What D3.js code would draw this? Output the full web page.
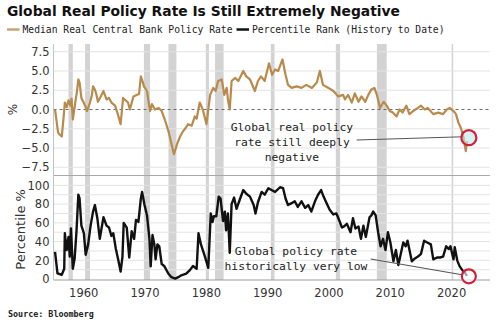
<!DOCTYPE html>
<html>
<head>
<meta charset="utf-8">
<script src="https://cdn.jsdelivr.net/npm/d3@7"></script>
<style>
    body { margin: 0; background: #fff; }
    svg { display: block; }
</style>
</head>
<body>
<script>
(function(){

//pseudo-global variables
//median real policy rate (top panel)
var rateYears = [1955.4,1955.9,1956.2,1956.5,1956.8,1957.0,1957.3,1957.6,1957.9,1958.1,1958.3,1958.7,1959.0,1959.2,1959.4,1959.7,1960.0,1960.3,1960.6,1961.1,1961.4,1961.6,1961.9,1962.1,1962.4,1962.8,1963.3,1963.8,1964.2,1964.6,1965.2,1965.6,1966.1,1966.5,1966.9,1967.3,1967.6,1968.2,1968.8,1969.1,1969.4,1969.7,1969.9,1970.4,1970.7,1970.9,1971.2,1971.7,1972.3,1972.8,1973.3,1973.9,1974.4,1974.8,1975.3,1975.8,1976.3,1976.7,1977.1,1977.7,1978.2,1978.5,1979.0,1979.5,1980.1,1980.7,1981.2,1981.6,1982.0,1982.6,1983.0,1983.4,1983.6,1983.9,1984.2,1984.8,1985.3,1986.1,1986.6,1987.2,1988.0,1988.5,1989.0,1989.6,1990.3,1990.8,1991.3,1991.8,1992.5,1993.0,1993.4,1994.0,1994.8,1995.6,1996.4,1997.3,1998.1,1998.6,1999.1,2000.0,2000.8,2001.6,2002.4,2002.7,2003.2,2003.8,2004.3,2004.9,2005.4,2006.0,2006.5,2007.0,2007.5,2007.9,2008.4,2009.0,2009.5,2010.0,2010.5,2011.1,2011.6,2012.1,2012.7,2013.2,2013.8,2014.6,2015.1,2015.7,2016.2,2017.1,2017.9,2018.7,2019.3,2019.8,2020.4,2020.8,2021.2,2021.6,2022.0,2022.4,2022.6];
var rateValues = [0,-3.0,-3.3,-3.5,-1.0,0.9,0.3,1.2,0.5,1.4,-1.3,0.9,2.5,3.9,3.5,1.5,1.0,0.5,-0.2,0.9,1.8,3.0,2.6,2.1,1.0,1.6,2.4,1.3,1.5,0.9,0.5,-0.5,-1.9,1.5,1.2,0.9,0,1.7,1.9,2.0,4.3,3.6,3.0,2.4,0.8,-0.2,0.7,0,0.2,-0.2,-1.3,-2.8,-4.5,-5.8,-4.5,-3.5,-2.8,-2.4,-1.9,-2.1,-0.9,-1.2,0.9,0,-1.9,1.9,2.8,2.4,3.7,3.9,1.9,2.8,1.3,0,3.7,4.1,3.7,5.0,4.3,3.9,2.4,3.7,4.3,3.7,6.0,4.5,5.2,5.0,6.5,4.5,3.2,2.8,3.0,2.8,3.2,2.8,3.5,5.0,3.2,2.8,2.4,1.7,1.9,1.3,1.9,0.9,2.1,1.0,1.7,1.0,1.9,2.6,2.8,1.9,0.2,1.0,0.5,-0.2,-0.4,-0.9,0,-0.4,0.5,-0.6,-0.2,0.2,0.5,0,0.2,-0.6,-0.4,-0.6,0,0.2,-0.2,-0.6,-1.7,-2.4,-3.5,-5.4,-4.1];

//percentile rank, history to date (bottom panel)
var pctYears = [1955.4,1955.8,1956.5,1956.9,1957.0,1957.3,1957.6,1957.8,1958.0,1958.3,1958.6,1958.9,1959.2,1959.4,1959.7,1960.1,1960.4,1960.8,1961.2,1961.6,1961.9,1962.3,1962.7,1963.3,1963.8,1964.2,1964.6,1964.9,1965.3,1965.7,1966.1,1966.4,1966.6,1967.1,1967.5,1967.9,1968.3,1968.6,1969.0,1969.4,1969.6,1970.0,1970.4,1970.8,1971.0,1971.3,1971.6,1971.8,1972.1,1972.4,1972.8,1973.2,1973.9,1974.4,1975.0,1975.5,1976.0,1976.8,1977.4,1977.9,1978.5,1978.8,1979.2,1979.8,1980.4,1980.8,1981.1,1981.3,1981.7,1982.1,1982.4,1982.8,1983.1,1983.3,1983.6,1983.9,1984.2,1984.6,1985.0,1985.6,1986.1,1986.6,1987.2,1987.8,1988.1,1988.5,1989.1,1989.6,1990.2,1990.7,1991.3,1992.1,1992.6,1993.0,1993.4,1994.0,1994.5,1995.0,1995.6,1996.2,1996.7,1997.2,1997.8,1998.3,1998.8,1999.2,1999.7,2000.2,2000.8,2001.3,2001.8,2002.2,2002.5,2003.0,2003.6,2004.0,2004.4,2004.9,2005.3,2005.7,2006.1,2006.7,2007.0,2007.3,2007.7,2008.1,2008.5,2008.9,2009.3,2009.7,2010.1,2010.6,2011.0,2011.4,2011.8,2012.2,2012.6,2012.9,2013.6,2014.1,2014.6,2015.1,2015.6,2016.1,2016.7,2017.1,2017.7,2018.2,2018.7,2019.2,2019.6,2019.9,2020.4,2020.6,2021.0,2021.4,2021.9,2022.2,2022.6];
var pctValues = [29,6,4.6,11,49,31,45,24,54,11,22,51,90,86,57,49,26,37,57,72,79,65,43,66,57,55,46,49,33,21,8,24,60,55,23,51,43,63,61,86,93,79,68,43,13.5,47,37,21,37,35,16,14,5.7,2,0.5,2,4,5.7,9.5,14,11,49,37,25,12,70,61,67,67,88,86,62,72,52,70,28,80,87,75,86,95,91,88,79,70,82,93,90,97,95,93,98,97,86,79,81,83,77,83,76,79,72,83,90,95,88,81,74,69,70,62,55,56,59,50,65,54,56,43,57,45,66,68,72,68,50,35,43,31,50,39,19,31,15,27,39,35,41,19,22,24,27,41,39,37,21,23,23,24,35,32,35,21,34,20,13.5,9,7.5,3.5];

//recession shading (start, end)
var recStart = [1957.6,1960.3,1969.9,1973.9,1980.0,1981.5,1990.6,2001.2,2007.9,2020.1];
var recEnd   = [1958.3,1961.1,1970.9,1975.2,1980.5,1982.9,1991.2,2001.9,2009.5,2020.35];

//tick labels
var xTicks = [1960, 1970, 1980, 1990, 2000, 2010, 2020];
var rateTicks = [7.5, 5.0, 2.5, 0.0, -2.5, -5.0, -7.5];
var pctTicks = [0, 20, 40, 60, 80, 100];
var pctGrid = [10, 20, 30, 40, 50, 60, 70, 80, 90, 100];

//texts
var titleText = "Global Real Policy Rate Is Still Extremely Negative";
var legendLabels = ["Median Real Central Bank Policy Rate", "Percentile Rank (History to Date)"];
var topNote = ["Global real policy", "rate still deeply", "negative"];
var bottomNote = ["Global policy rate", "historically very low"];
var sourceText = "Source: Bloomberg";

//colours
var rateColor = "#b88a4c",
    legendTan = "#c6a574",
    recColor = "#d3d3d3",
    gridColor = "#e3e3e3",
    ringColor = "#d3203a";

var width = 500,
    height = 333;

setChart();

function setChart(){

    var svg = d3.select("body")
        .append("svg")
        .attr("width", width)
        .attr("height", height);

    //scales
    var x = d3.scaleLinear()
        .domain([1955.15, 2026.35])
        .range([53.5, 490]);

    var yTop = d3.scaleLinear()
        .domain([-8.5, 8.5])
        .range([175, 44]);

    var yBot = d3.scaleLinear()
        .domain([-1, 110])
        .range([280, 176]);

    var tickFont = "DejaVu Sans, Verdana, sans-serif",
        monoFont = "DejaVu Sans Mono, monospace";

    //recession bands over both panels
    var recs = recStart.map(function(d, i){ return [d, recEnd[i]]; });
    svg.selectAll(".rec")
        .data(recs)
        .enter()
        .append("rect")
        .attr("class", "rec")
        .attr("x", function(d){ return x(d[0]); })
        .attr("width", function(d){ return Math.max(1.2, x(d[1]) - x(d[0])); })
        .attr("y", yTop.range()[1])
        .attr("height", yBot.range()[0] - yTop.range()[1])
        .attr("fill", recColor);

    //top panel gridlines
    svg.selectAll(".gridTop")
        .data(rateTicks.filter(function(d){ return d != 0; }))
        .enter()
        .append("line")
        .attr("x1", x.range()[0])
        .attr("x2", x.range()[1])
        .attr("y1", function(d){ return yTop(d); })
        .attr("y2", function(d){ return yTop(d); })
        .attr("stroke", gridColor)
        .attr("stroke-width", 1);

    //bottom panel gridlines
    svg.selectAll(".gridBot")
        .data(pctGrid)
        .enter()
        .append("line")
        .attr("x1", x.range()[0])
        .attr("x2", x.range()[1])
        .attr("y1", function(d){ return yBot(d); })
        .attr("y2", function(d){ return yBot(d); })
        .attr("stroke", gridColor)
        .attr("stroke-width", 1);

    //zero line
    svg.append("line")
        .attr("x1", x.range()[0])
        .attr("x2", x.range()[1])
        .attr("y1", yTop(0))
        .attr("y2", yTop(0))
        .attr("stroke", "#6a6a6a")
        .attr("stroke-width", 1)
        .attr("stroke-dasharray", "3,3");

    //panel frame lines
    svg.append("line")
        .attr("x1", x.range()[0]).attr("x2", x.range()[1])
        .attr("y1", 175.5).attr("y2", 175.5)
        .attr("stroke", "#a8a8a8");
    svg.append("line")
        .attr("x1", x.range()[0]).attr("x2", x.range()[1])
        .attr("y1", yBot(-1)).attr("y2", yBot(-1))
        .attr("stroke", "#9a9a9a");
    svg.append("line")
        .attr("x1", x.range()[0]).attr("x2", x.range()[0])
        .attr("y1", yTop.range()[1]).attr("y2", yBot(-1))
        .attr("stroke", "#c4c4c4");

    //axes (text only, styled after)
    var axTop = svg.append("g")
        .attr("transform", "translate(" + (x.range()[0] - 4) + ",0)")
        .call(d3.axisLeft(yTop).tickValues(rateTicks).tickFormat(d3.format(".1f")).tickSize(0));
    var axBot = svg.append("g")
        .attr("transform", "translate(" + (x.range()[0] - 4) + ",0)")
        .call(d3.axisLeft(yBot).tickValues(pctTicks).tickFormat(d3.format("d")).tickSize(0));
    var axX = svg.append("g")
        .attr("transform", "translate(0," + (yBot(-1) + 6) + ")")
        .call(d3.axisBottom(x).tickValues(xTicks).tickFormat(d3.format("d")).tickSize(0));

    [axTop, axBot, axX].forEach(function(ax){
        ax.select(".domain").remove();
        ax.selectAll("text")
            .attr("fill", "#333")
            .style("font-family", tickFont)
            .style("font-size", "11.5px");
    });
    axTop.selectAll("text").attr("x", 0);
    axBot.selectAll("text").attr("x", 0);

    //y labels
    svg.append("text")
        .attr("transform", "translate(17," + yTop(0) + ") rotate(-90)")
        .attr("text-anchor", "middle")
        .style("font-family", tickFont)
        .style("font-size", "12px")
        .attr("fill", "#333")
        .text("%");
    svg.append("text")
        .attr("transform", "translate(25," + yBot(53) + ") rotate(-90)")
        .attr("text-anchor", "middle")
        .style("font-family", tickFont)
        .style("font-size", "13px")
        .attr("fill", "#333")
        .text("Percentile %");

    //lines
    var rateLine = d3.line()
        .x(function(d){ return x(d[0]); })
        .y(function(d){ return yTop(d[1]); });
    var pctLine = d3.line()
        .x(function(d){ return x(d[0]); })
        .y(function(d){ return yBot(d[1]); });

    svg.append("path")
        .datum(rateYears.map(function(d, i){ return [d, rateValues[i]]; }))
        .attr("d", rateLine)
        .attr("fill", "none")
        .attr("stroke", rateColor)
        .attr("stroke-width", 2.2)
        .attr("stroke-linejoin", "round");

    svg.append("path")
        .datum(pctYears.map(function(d, i){ return [d, pctValues[i]]; }))
        .attr("d", pctLine)
        .attr("fill", "none")
        .attr("stroke", "#111")
        .attr("stroke-width", 2.4)
        .attr("stroke-linejoin", "round");

    //annotations
    addNote(svg, topNote, x(1994.05), yTop(-2.79), x(2004.6), yTop(-3.96), x(2022.0), yTop(-3.53), monoFont);
    addNote(svg, bottomNote, x(1994.7), yBot(26.2), x(2006.9), yBot(21.4), x(2022.0), yBot(4.3), monoFont);

    //red rings on latest readings
    svg.append("circle")
        .attr("cx", x(2022.9)).attr("cy", yTop(-3.66)).attr("r", 7.5)
        .attr("fill", "#bfe8e8").attr("fill-opacity", 0.6)
        .attr("stroke", ringColor).attr("stroke-width", 2.2);
    svg.append("circle")
        .attr("cx", x(2022.9)).attr("cy", yBot(2.9)).attr("r", 7)
        .attr("fill", "#ffffff").attr("fill-opacity", 0.6)
        .attr("stroke", ringColor).attr("stroke-width", 2.2);

    //title
    svg.append("text")
        .attr("x", 7)
        .attr("y", 15.5)
        .attr("textLength", 393)
        .attr("lengthAdjust", "spacingAndGlyphs")
        .style("font-family", "DejaVu Sans, Verdana, sans-serif")
        .style("font-weight", "bold")
        .style("font-size", "14.5px")
        .attr("fill", "#111")
        .text(titleText);

    //legend
    var legendX = [7, 236.5],
        legendColors = [legendTan, "#111"];
    legendLabels.forEach(function(label, i){
        svg.append("line")
            .attr("x1", legendX[i]).attr("x2", legendX[i] + 12.5)
            .attr("y1", 29.5).attr("y2", 29.5)
            .attr("stroke", legendColors[i])
            .attr("stroke-width", 2.5);
        svg.append("text")
            .attr("x", legendX[i] + 15.5)
            .attr("y", 32.8)
            .style("font-family", monoFont)
            .style("font-size", "9.7px")
            .attr("fill", "#222")
            .text(label);
    });

    //source
    svg.append("text")
        .attr("x", 8)
        .attr("y", 317)
        .style("font-family", monoFont)
        .style("font-weight", "bold")
        .style("font-size", "8.4px")
        .attr("fill", "#222")
        .text(sourceText);
};

//multi-line note with a connector to the ringed point
function addNote(svg, lines, cx, baseY, lx1, ly1, lx2, ly2, font){
    svg.append("line")
        .attr("x1", lx1).attr("y1", ly1)
        .attr("x2", lx2).attr("y2", ly2)
        .attr("stroke", "#555")
        .attr("stroke-width", 1.1);

    svg.selectAll(null)
        .data(lines)
        .enter()
        .append("text")
        .attr("x", cx)
        .attr("y", function(d, i){ return baseY + i * 15; })
        .attr("text-anchor", "middle")
        .style("font-family", font)
        .style("font-size", "11.3px")
        .attr("fill", "#222")
        .text(function(d){ return d; });
};

})();
</script>
</body>
</html>
